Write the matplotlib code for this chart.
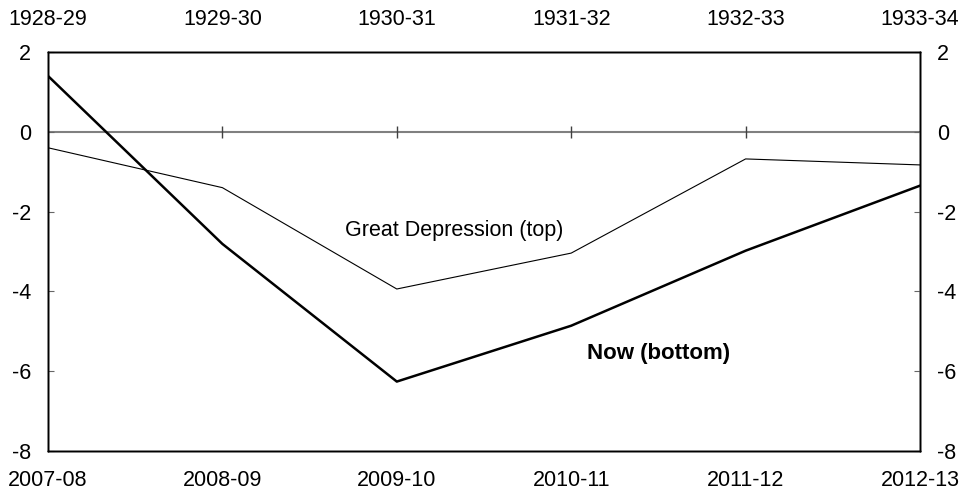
import matplotlib.pyplot as plt

plt.rcParams['font.family'] = ['Liberation Sans', 'DejaVu Sans']
plt.rcParams['axes.unicode_minus'] = False

now_years = ['2007-08', '2008-09', '2009-10', '2010-11', '2011-12', '2012-13']
gd_years = ['1928-29', '1929-30', '1930-31', '1931-32', '1932-33', '1933-34']
now_vals = [1.40, -2.81, -6.26, -4.86, -2.98, -1.35]
gd_vals = [-0.40, -1.40, -3.94, -3.04, -0.68, -0.83]
y_ticks = [2, 0, -2, -4, -6, -8]

fig = plt.figure(figsize=(9.64, 4.96), dpi=100)
ax = fig.add_axes([48 / 964, 45 / 496, 872 / 964, 399 / 496])

x = list(range(len(now_years)))

ax.axhline(0, color='#808080', lw=1.5, zorder=1)
ax.plot(x[1:-1], [0] * (len(x) - 2), ls='none', marker='|', ms=9, mew=1,
        color='#404040', zorder=1)
ax.plot(x, gd_vals, color='black', lw=0.8, zorder=2)
ax.plot(x, now_vals, color='black', lw=1.8, zorder=3)

ax.text(2.33, -2.48, 'Great Depression (top)', fontsize=15.5, ha='center', va='center')
ax.text(3.50, -5.56, 'Now (bottom)', fontsize=16, fontweight='bold',
        ha='center', va='center')

ax.set_xlim(0, len(x) - 1)
ax.set_ylim(-8, 2)
ax.set_xticks(x)
ax.set_xticklabels(now_years)
ax.set_yticks(y_ticks)
ax.tick_params(axis='x', length=0, pad=14, labelsize=15.5)
ax.tick_params(axis='y', length=4, direction='in', pad=12, labelsize=15.5,
               color='#666666')

ax_top = ax.twiny()
ax_top.set_xlim(ax.get_xlim())
ax_top.set_xticks(x)
ax_top.set_xticklabels(gd_years)
ax_top.tick_params(axis='x', length=0, pad=16, labelsize=15.5)

ax_right = ax.twinx()
ax_right.set_ylim(ax.get_ylim())
ax_right.set_yticks(y_ticks)
ax_right.tick_params(axis='y', length=4, direction='in', pad=12, labelsize=15.5,
                     color='#666666')

for a in (ax, ax_top, ax_right):
    for s in a.spines.values():
        s.set_linewidth(1.0)
        s.set_color('black')

fig.savefig('out.png', dpi=100)
